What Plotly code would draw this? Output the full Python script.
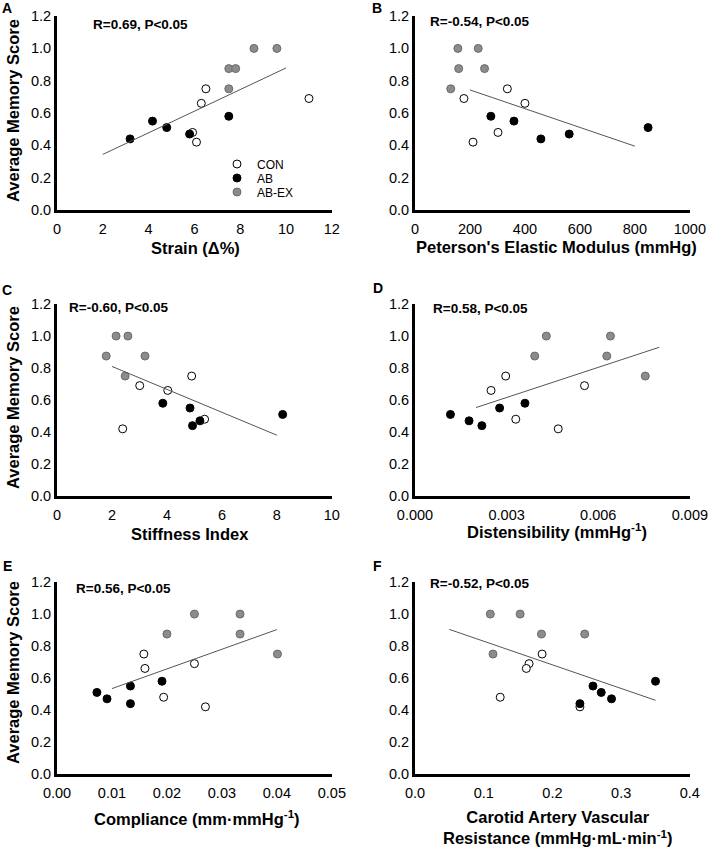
import plotly.graph_objects as go

# Shared memory scores (y) per group
con_y = [0.75, 0.69, 0.66, 0.48, 0.42]
ab_y = [0.58, 0.55, 0.51, 0.47, 0.44]
abex_y = [1.0, 1.0, 0.875, 0.875, 0.75]

# Panel A: Strain (Δ%)
a_con = [6.5, 11.0, 6.3, 5.92, 6.09]
a_ab = [7.5, 4.17, 4.79, 5.79, 3.19]
a_abex = [8.6, 9.6, 7.5, 7.8, 7.5]
a_fit_x = [2, 10]
a_fit_y = [0.344, 0.879]

# Panel B: Peterson's Elastic Modulus
b_con = [336, 178, 400, 302, 211]
b_ab = [276, 360, 848, 561, 458]
b_abex = [156, 230, 159, 253, 130]
b_fit_x = [200, 800]
b_fit_y = [0.743, 0.395]

# Panel C: Stiffness Index
c_con = [4.9, 3.01, 4.03, 5.37, 2.39]
c_ab = [3.85, 4.84, 8.21, 5.2, 4.93]
c_abex = [2.15, 2.58, 1.79, 3.2, 2.48]
c_fit_x = [2, 8]
c_fit_y = [0.81, 0.38]

# Panel D: Distensibility
d_con = [0.00297, 0.00555, 0.00249, 0.0033, 0.00469]
d_ab = [0.0036, 0.00277, 0.00116, 0.00177, 0.00219]
d_abex = [0.0043, 0.0064, 0.00392, 0.00628, 0.00754]
d_fit_x = [0.002, 0.008]
d_fit_y = [0.553, 0.93]

# Panel E: Compliance
e_con = [0.0158, 0.025, 0.016, 0.0194, 0.027]
e_ab = [0.0191, 0.01336, 0.00726, 0.0091, 0.01336]
e_abex = [0.025, 0.0333, 0.02, 0.0333, 0.0401]
e_fit_x = [0.01, 0.04]
e_fit_y = [0.534, 0.903]

# Panel F: Carotid Artery Vascular Resistance
f_con = [0.185, 0.166, 0.162, 0.124, 0.24]
f_ab = [0.35, 0.259, 0.271, 0.286, 0.24]
f_abex = [0.1096, 0.153, 0.184, 0.247, 0.1135]
f_fit_x = [0.05, 0.35]
f_fit_y = [0.904, 0.461]

group_names = ["CON", "AB", "AB-EX"]
r_labels = ["R=0.69, P<0.05", "R=-0.54, P<0.05", "R=-0.60, P<0.05",
            "R=0.58, P<0.05", "R=0.56, P<0.05", "R=-0.52, P<0.05"]
panel_letters = ["A", "B", "C", "D", "E", "F"]
x_titles = ["Strain (Δ%)", "Peterson's Elastic Modulus (mmHg)", "Stiffness Index",
            "Distensibility (mmHg<sup>-1</sup>)", "Compliance (mm·mmHg<sup>-1</sup>)",
            "Carotid Artery Vascular<br>Resistance (mmHg·mL·min<sup>-1</sup>)"]
x_tickvals = [
    [0, 2, 4, 6, 8, 10, 12],
    [0, 200, 400, 600, 800, 1000],
    [0, 2, 4, 6, 8, 10],
    [0, 0.003, 0.006, 0.009],
    [0, 0.01, 0.02, 0.03, 0.04, 0.05],
    [0, 0.1, 0.2, 0.3, 0.4],
]
x_ticktext = [
    ["0", "2", "4", "6", "8", "10", "12"],
    ["0", "200", "400", "600", "800", "1000"],
    ["0", "2", "4", "6", "8", "10"],
    ["0.000", "0.003", "0.006", "0.009"],
    ["0.00", "0.01", "0.02", "0.03", "0.04", "0.05"],
    ["0.0", "0.1", "0.2", "0.3", "0.4"],
]
y_tickvals = [0, 0.2, 0.4, 0.6, 0.8, 1.0, 1.2]
y_ticktext = ["0.0", "0.2", "0.4", "0.6", "0.8", "1.0", "1.2"]

panels = [
    (a_con, a_ab, a_abex, a_fit_x, a_fit_y),
    (b_con, b_ab, b_abex, b_fit_x, b_fit_y),
    (c_con, c_ab, c_abex, c_fit_x, c_fit_y),
    (d_con, d_ab, d_abex, d_fit_x, d_fit_y),
    (e_con, e_ab, e_abex, e_fit_x, e_fit_y),
    (f_con, f_ab, f_abex, f_fit_x, f_fit_y),
]

W, H = 709, 848
FONT = "Liberation Sans, Arial, sans-serif"

# layout geometry (pixels)
col_x = [(57, 332), (415, 690)]
row_y = [(16, 210), (304, 496), (582, 774)]

def px(x):
    return x / W

def py(y):
    return 1 - y / H

styles = [
    dict(color="white", line=dict(color="black", width=1)),
    dict(color="black", line=dict(color="black", width=1)),
    dict(color="#8c8c8c", line=dict(color="#6a6a6a", width=1)),
]
legend_ids = ["legend", "legend2", "legend3"]
legend_y = [164, 178, 192]

fig = go.Figure()
layout_axes = {}
annotations = []

title_pos = [
    (195, 248), (556, 247), (190, 534), (557, 531), (197, 818), (557, 827),
]
r_pos = [(91, 25), (428, 21), (67, 307), (431, 308), (74, 588), (428, 583)]
letter_pos = [(7, 8), (377, 8), (7, 290), (378, 288), (7, 566), (378, 566)]

for i, (con_x, ab_x, abex_x, fx, fy) in enumerate(panels):
    r, c = divmod(i, 2)
    n = i + 1
    xa = "x" if n == 1 else f"x{n}"
    ya = "y" if n == 1 else f"y{n}"
    for g, (xs, ys) in enumerate([(con_x, con_y), (ab_x, ab_y), (abex_x, abex_y)]):
        fig.add_trace(go.Scatter(
            x=xs, y=ys, mode="markers", name=group_names[g],
            marker=dict(size=8, **styles[g]),
            showlegend=(i == 0), legend=legend_ids[g],
            xaxis=xa, yaxis=ya, cliponaxis=False,
        ))
    fig.add_trace(go.Scatter(
        x=fx, y=fy, mode="lines", line=dict(color="#555555", width=1),
        showlegend=False, xaxis=xa, yaxis=ya, hoverinfo="skip",
    ))
    x0, x1 = col_x[c]
    y0, y1 = row_y[r]
    axis_common = dict(
        showgrid=False, zeroline=False, showline=True, linecolor="black",
        linewidth=3, tickfont=dict(family=FONT, size=14.5, color="black"),
        automargin=False, fixedrange=True, tickmode="array",
        ticklabeloverflow="allow",
    )
    xt = x_tickvals[i]
    layout_axes["xaxis" if n == 1 else f"xaxis{n}"] = dict(
        domain=[px(x0), px(x1)], range=[xt[0], xt[-1] * 1.0005],
        tickvals=xt, ticktext=x_ticktext[i], anchor=ya,
        ticks="outside", ticklen=4, tickcolor="rgba(0,0,0,0)",
        **axis_common,
    )
    layout_axes["yaxis" if n == 1 else f"yaxis{n}"] = dict(
        domain=[py(y1), py(y0)], range=[0, 1.2005],
        tickvals=y_tickvals, ticktext=y_ticktext, anchor=xa, ticks="",
        **axis_common,
    )
    tx, ty = title_pos[i]
    annotations.append(dict(
        text=f"<b>{x_titles[i]}</b>", x=px(tx), y=py(ty), xref="paper", yref="paper",
        xanchor="center", yanchor="middle", showarrow=False,
        font=dict(family=FONT, size=16.5, color="black"),
    ))
    rx, ry = r_pos[i]
    annotations.append(dict(
        text=f"<b>{r_labels[i]}</b>", x=px(rx), y=py(ry), xref="paper", yref="paper",
        xanchor="left", yanchor="middle", showarrow=False,
        font=dict(family=FONT, size=13.5, color="black"),
    ))
    lx, ly = letter_pos[i]
    annotations.append(dict(
        text=f"<b>{panel_letters[i]}</b>", x=px(lx), y=py(ly), xref="paper", yref="paper",
        xanchor="center", yanchor="middle", showarrow=False,
        font=dict(family=FONT, size=14, color="black"),
    ))

for cy in [111, 398, 673]:
    annotations.append(dict(
        text="<b>Average Memory Score</b>", x=px(13), y=py(cy), xref="paper", yref="paper",
        xanchor="center", yanchor="middle", textangle=-90, showarrow=False,
        font=dict(family=FONT, size=16.5, color="black"),
    ))

legends = {}
for k, lid in enumerate(legend_ids):
    legends[lid] = dict(
        x=px(217), y=py(legend_y[k]), xanchor="left", yanchor="middle",
        bgcolor="rgba(0,0,0,0)", font=dict(family=FONT, size=12, color="black"),
        borderwidth=0,
    )

fig.update_layout(
    width=W, height=H, margin=dict(l=0, r=0, t=0, b=0, pad=0, autoexpand=False),
    paper_bgcolor="white", plot_bgcolor="white",
    font=dict(family=FONT, color="black"),
    annotations=annotations,
    **legends,
    **layout_axes,
)

fig.write_html(
    "out.html",
    config={"displayModeBar": False, "staticPlot": True},
    post_script="document.body.style.margin='0px';document.body.style.overflow='hidden';",
)
